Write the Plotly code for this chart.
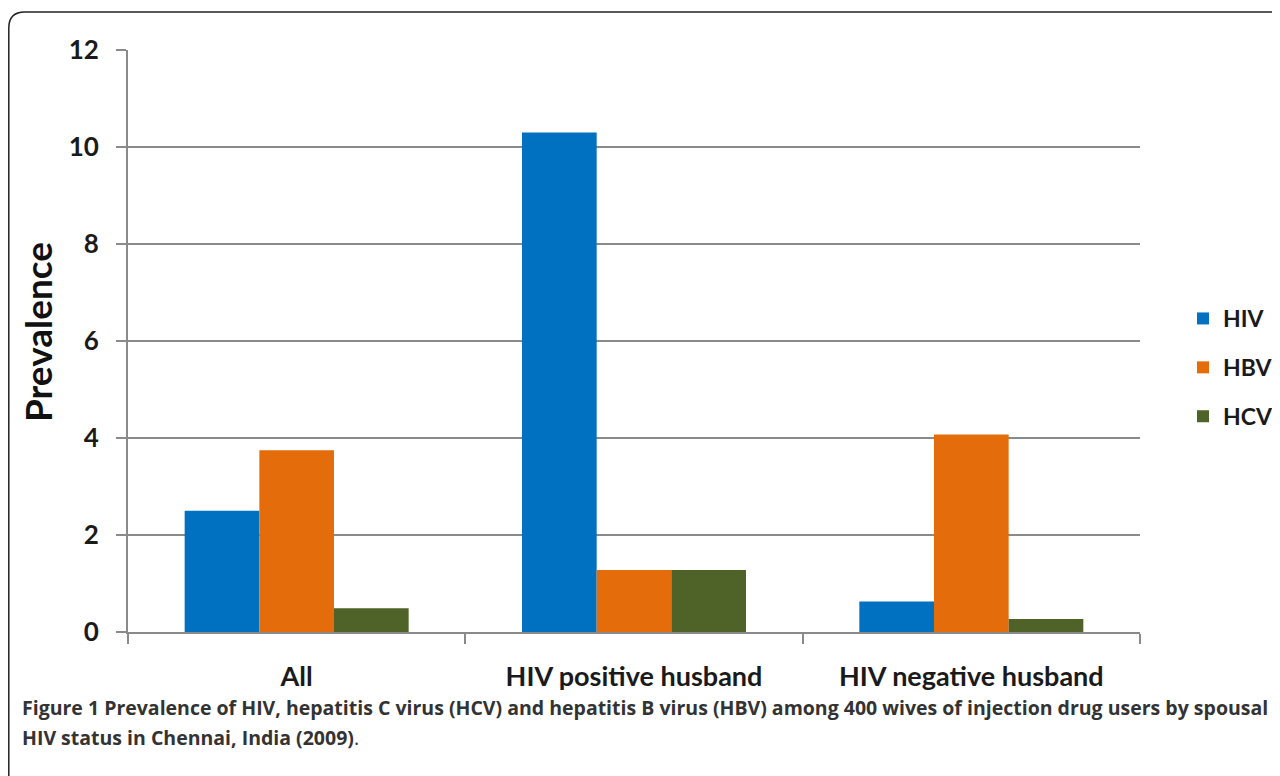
import plotly.graph_objects as go

categories = ["All", "HIV positive husband", "HIV negative husband"]
hiv = [2.5, 10.3, 0.63]
hbv = [3.75, 1.28, 4.07]
hcv = [0.49, 1.28, 0.27]
series_names = ["HIV", "HBV", "HCV"]
series_colors = ["#0070C0", "#E46C0A", "#4F6228"]
y_ticks = [0, 2, 4, 6, 8, 10, 12]

# page body has an 8px margin, so all pixel positions below are
# figure pixels (screen - 8); the figure is a bit wider than the window
# so the legend fits without shrinking the plot area
W, H = 1290, 768
L, T, B = 120, 42, 144
PLOT_RIGHT = 1132
R = W - PLOT_RIGHT
PW, PH = W - L - R, H - T - B

def px(x):
    return (x - L) / PW

def py(y):
    return (H - B - y) / PH

fig = go.Figure()
for name, vals, col in zip(series_names, [hiv, hbv, hcv], series_colors):
    fig.add_trace(go.Bar(x=categories, y=vals, name=name, marker_color=col,
                         marker_line_width=0, legendgroup=name))

gray = "#8a8a8a"
txt = "#1a1a1a"
fig.update_layout(
    width=W, height=H,
    margin=dict(l=L, r=R, t=T, b=B),
    paper_bgcolor="white", plot_bgcolor="white",
    barmode="group", bargap=0.336, bargroupgap=0,
    font=dict(family="Lato", color=txt),
    showlegend=True,
    legend=dict(x=px(1175), y=py(289), xanchor="left", yanchor="top",
                font=dict(size=23, family="Lato", color=txt, weight="bold"),
                tracegroupgap=16, itemwidth=30, bgcolor="rgba(0,0,0,0)"),
    xaxis=dict(showline=True, linecolor=gray, linewidth=2,
               ticks="outside", ticklen=10, tickcolor=gray, tickwidth=1.5,
               tickson="boundaries", showgrid=False,
               tickfont=dict(size=27, family="Lato", color=txt, weight="bold"),
               ticklabelstandoff=20),
    yaxis=dict(range=[0, 12], tickvals=y_ticks, showgrid=True, gridcolor=gray,
               gridwidth=1.5, showline=True, linecolor=gray, linewidth=2,
               ticks="outside", ticklen=10, tickcolor=gray, tickwidth=1.5,
               zeroline=False,
               tickfont=dict(size=26, family="Lato", color=txt, weight="bold"),
               ticklabelstandoff=12),
)

# y axis title
fig.add_annotation(text="<b>Prevalence</b>", x=px(29), y=py(324), xref="paper", yref="paper",
                   xanchor="center", yanchor="middle", textangle=-90, showarrow=False,
                   font=dict(size=37, family="Lato", color="#111"))

# rounded frame around the figure
r = 16
x0, y0 = 0.8, 4
path = (f"M {px(x0)},{py(H + 10)} L {px(x0)},{py(y0 + r)} "
        f"Q {px(x0)},{py(y0)} {px(x0 + r)},{py(y0)} L {px(W + 10)},{py(y0)}")
fig.add_shape(type="path", path=path, xref="paper", yref="paper",
              line=dict(color="#222", width=1.5))

caption_lines = [
    "<b>Figure 1 Prevalence of HIV, hepatitis C virus (HCV) and hepatitis B virus (HBV) among 400 wives of injection drug users by spousal</b>",
    "<b>HIV status in Chennai, India (2009)</b>.",
]
for i, line in enumerate(caption_lines):
    fig.add_annotation(text=line, x=px(12), y=py(699 + 30 * i), xref="paper", yref="paper",
                       xanchor="left", yanchor="middle", align="left", showarrow=False,
                       font=dict(size=19.5, family="Open Sans", color="#333"))

fig.write_html("out.html")
